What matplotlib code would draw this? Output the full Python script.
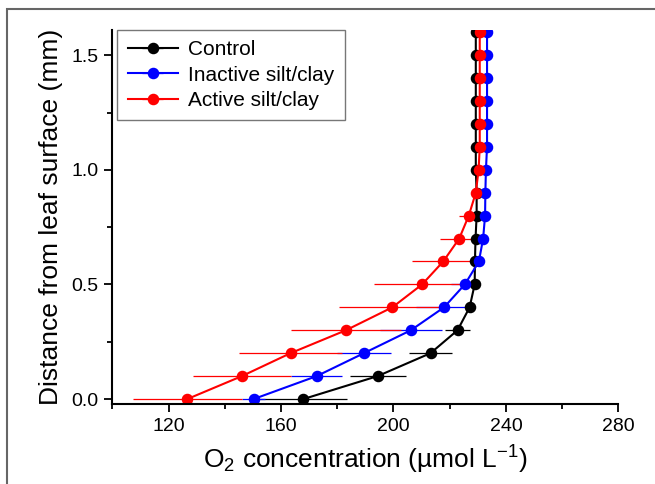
import matplotlib
matplotlib.use("Agg")
import matplotlib.pyplot as plt
from matplotlib.patches import Rectangle
from matplotlib.ticker import MultipleLocator, FormatStrFormatter

plt.rcParams['font.family'] = ['Liberation Sans', 'DejaVu Sans']
plt.rcParams['mathtext.fontset'] = 'custom'
plt.rcParams['mathtext.rm'] = 'Liberation Sans'
plt.rcParams['mathtext.it'] = 'Liberation Sans:italic'

# distance from leaf surface (mm)
depth = [0.0, 0.1, 0.2, 0.3, 0.4, 0.5, 0.6, 0.7, 0.8, 0.9,
         1.0, 1.1, 1.2, 1.3, 1.4, 1.5, 1.6]

# O2 concentration
control = [168.0, 194.4, 213.2, 222.8, 227.1, 228.9, 229.0, 229.2, 229.6, 229.6,
           229.3, 229.3, 229.3, 229.3, 229.3, 229.3, 229.3]
control_err = [15.5, 10.0, 7.6, 4.4, 1.5, 0.8, 0.5, 0.5, 0.5, 0.5,
               0.5, 0.5, 0.5, 0.5, 0.5, 0.5, 0.5]

inactive = [150.3, 172.7, 189.5, 206.2, 218.0, 225.4, 230.4, 231.9, 232.6, 232.7,
            232.9, 233.3, 233.3, 233.3, 233.3, 233.3, 233.3]
inactive_err = [4.0, 9.0, 9.6, 11.0, 10.0, 5.0, 1.0, 0.5, 0.5, 0.5,
                0.5, 0.5, 0.5, 0.5, 0.5, 0.5, 0.5]

active = [126.7, 146.1, 163.4, 183.1, 199.6, 210.2, 217.7, 223.4, 226.8, 229.3,
          230.3, 230.7, 230.7, 230.7, 230.7, 230.7, 230.7]
active_err = [19.5, 17.5, 18.2, 19.6, 19.0, 17.0, 11.0, 7.0, 3.4, 1.0,
              0.5, 0.5, 0.5, 0.5, 0.5, 0.5, 0.5]

series = [
    ("Control", control, control_err, "black"),
    ("Inactive silt/clay", inactive, inactive_err, "#0000ff"),
    ("Active silt/clay", active, active_err, "#ff0000"),
]

fig = plt.figure(figsize=(6.55, 4.84), dpi=100)
ax = fig.add_axes([0.1715, 0.1647, 0.7725, 0.7733])

for name, vals, err, col in series:
    ax.errorbar(vals, depth, xerr=err, color=col, ecolor=col, elinewidth=0.9,
                capsize=0, lw=1.5, marker='o', ms=7.3, label=name)

ax.set_xlim(100, 280)
ax.set_ylim(-0.023, 1.61)
ax.set_xticks([120, 160, 200, 240, 280])
ax.xaxis.set_minor_locator(MultipleLocator(20))
ax.yaxis.set_major_locator(MultipleLocator(0.5))
ax.yaxis.set_minor_locator(MultipleLocator(0.25))
ax.yaxis.set_major_formatter(FormatStrFormatter('%.1f'))

ax.spines['top'].set_visible(False)
ax.spines['right'].set_visible(False)
ax.spines['left'].set_linewidth(1.5)
ax.spines['bottom'].set_linewidth(1.5)
ax.tick_params(which='major', direction='out', length=6, width=1.3, labelsize=14, pad=4)
ax.tick_params(which='minor', direction='out', length=3.5, width=1.3)

ax.set_xlabel("O$_{2}$ concentration (µmol L$^{-1}$)", fontsize=19, labelpad=6)
ax.set_ylabel("Distance from leaf surface (mm)", fontsize=19, labelpad=6)

leg = ax.legend(loc='upper left', bbox_to_anchor=(0.01, 1.0), borderaxespad=0,
                fontsize=15, frameon=True, fancybox=False, edgecolor='#555555',
                borderpad=0.5, handlelength=2.4, handletextpad=0.5,
                labelspacing=0.3)
leg.get_frame().set_linewidth(1.0)

# outer frame of the figure panel
fig.patches.append(Rectangle((7 / 655, -0.05), 1.2, 1 - 9 / 484 + 0.05,
                             transform=fig.transFigure, fill=False,
                             edgecolor='#666666', lw=1.5))

fig.savefig("out.png", dpi=100)
